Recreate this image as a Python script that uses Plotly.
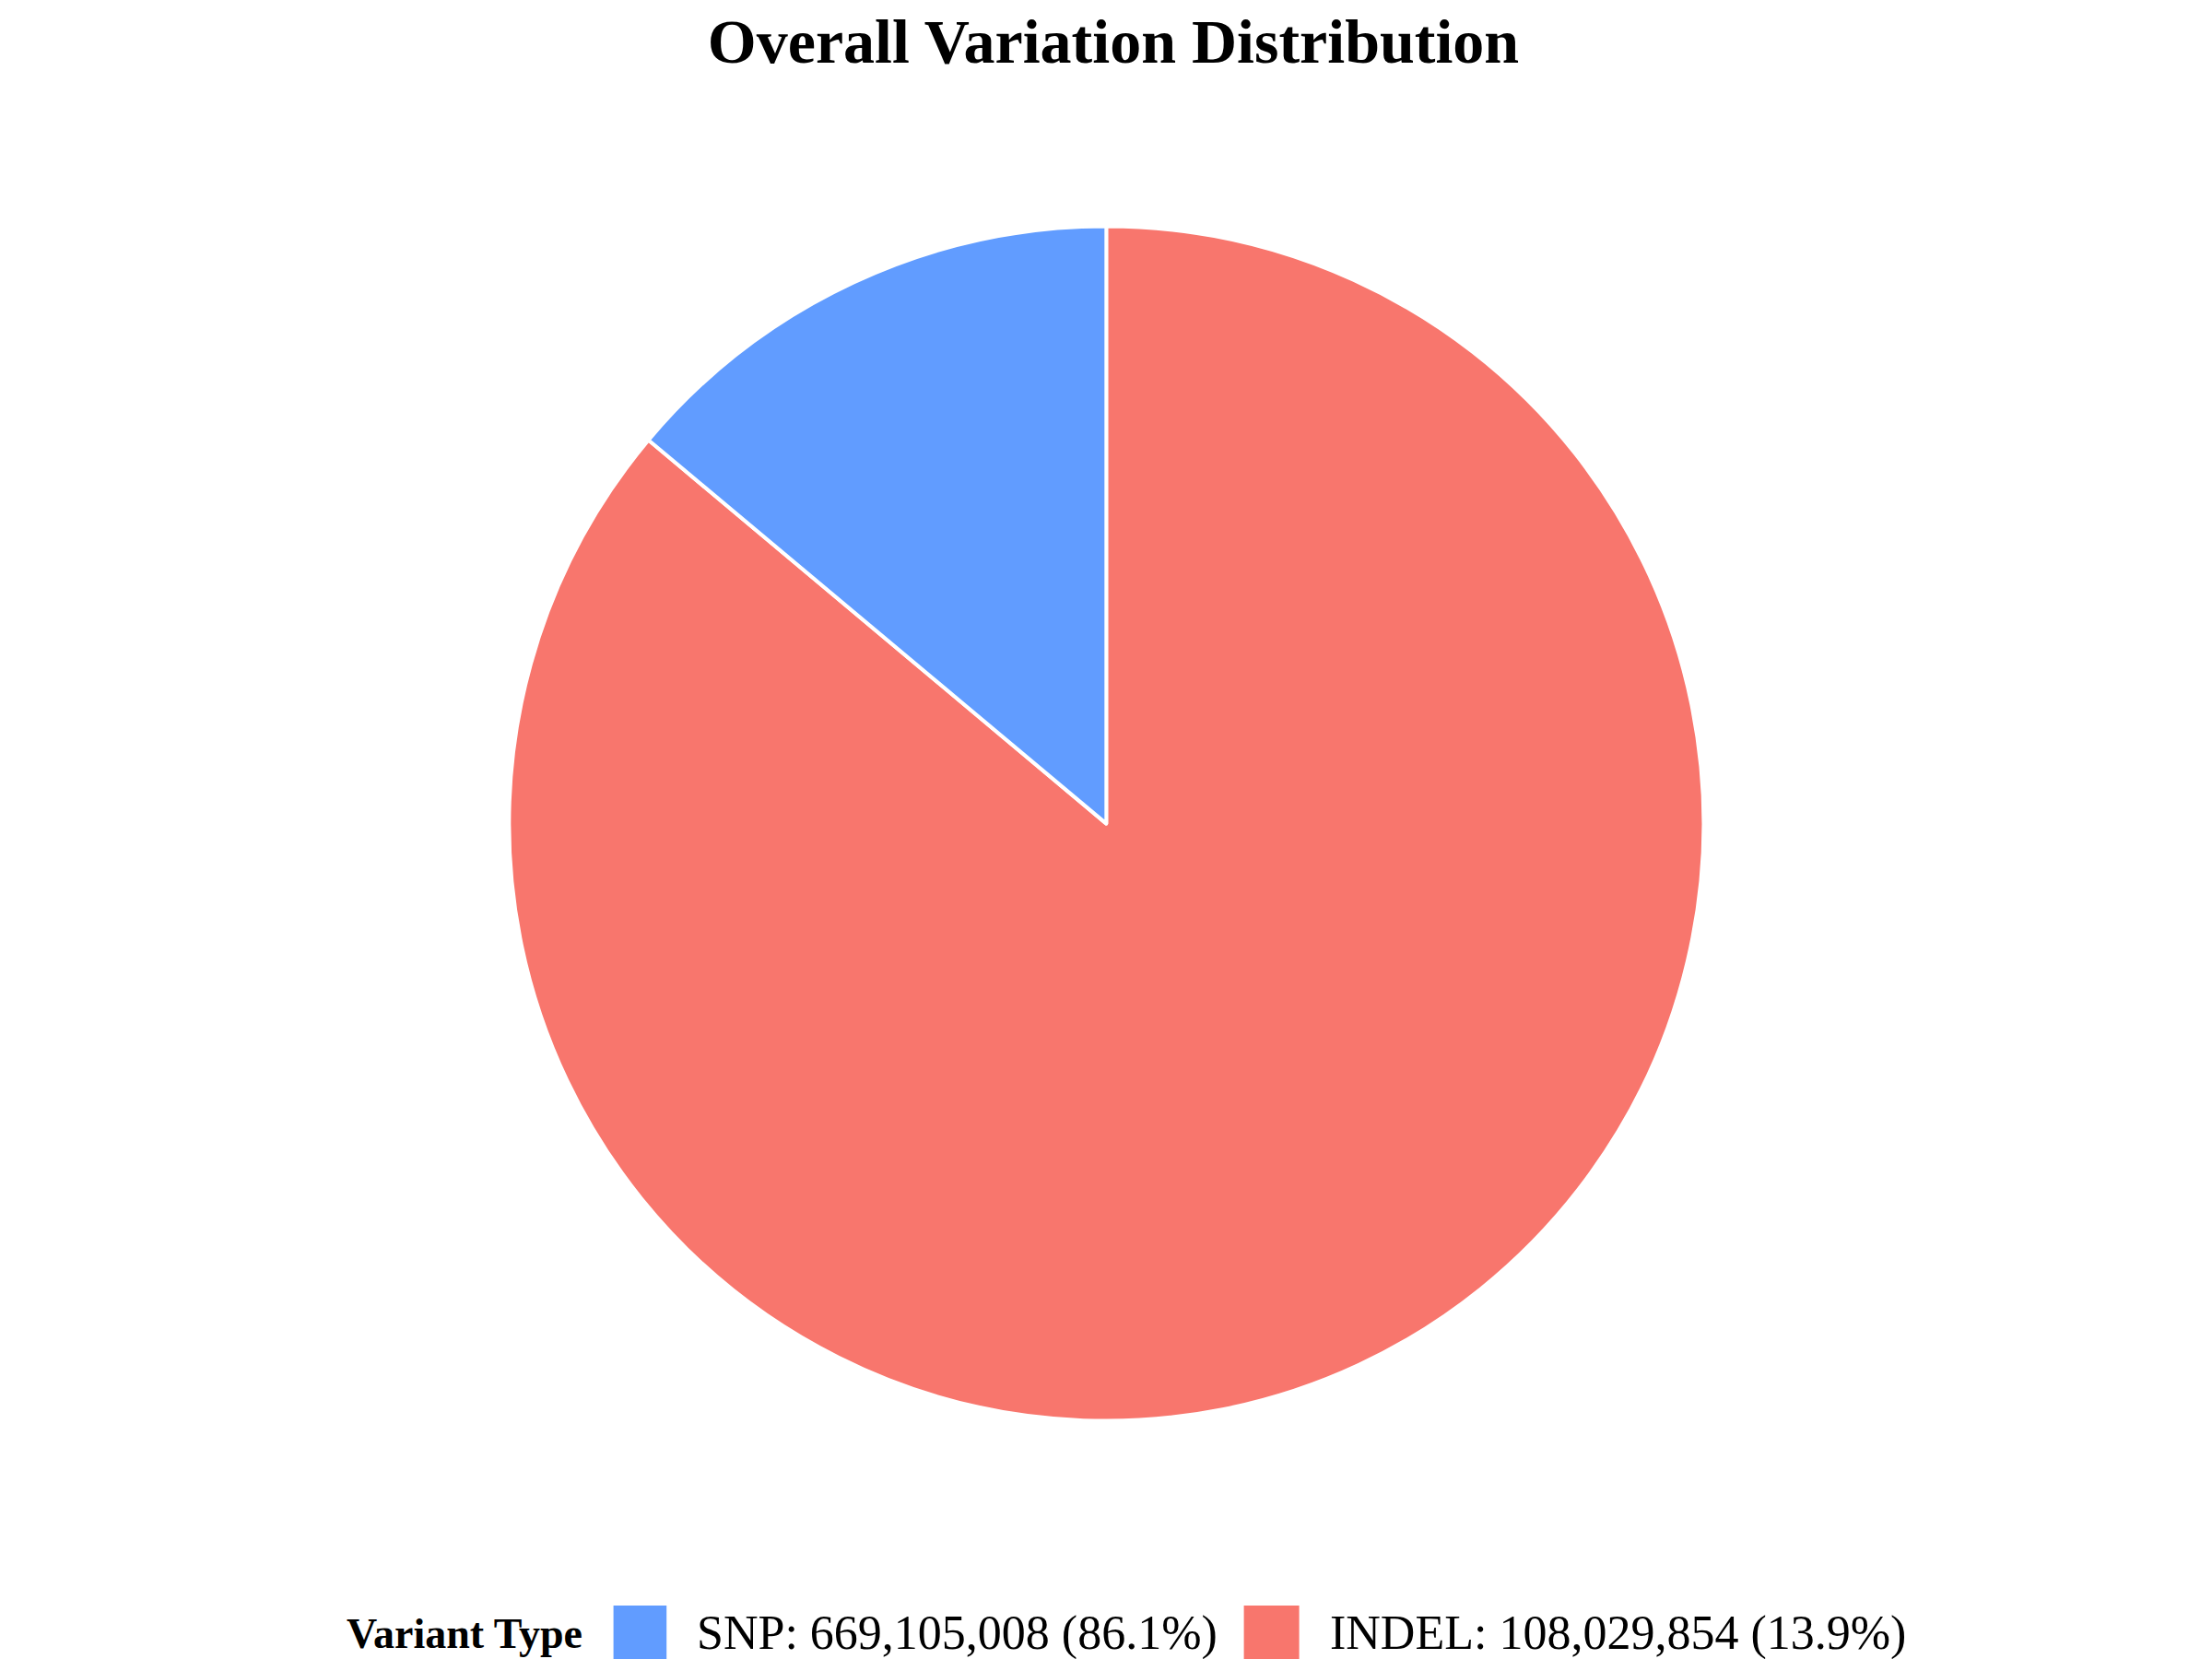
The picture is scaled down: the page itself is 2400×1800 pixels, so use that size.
import plotly.graph_objects as go

categories = ["SNP", "INDEL"]
counts = [669105008, 108029854]
percents = [86.1, 13.9]
colors = ["#619CFF", "#F8766D"]
# slice drawing order as in the reference (large red, then small blue ending at 12 o'clock)
slice_values = [counts[0], counts[1]]
slice_colors = [colors[1], colors[0]]

fig = go.Figure()
fig.add_trace(go.Pie(values=slice_values, sort=False, direction="counterclockwise",
                     marker=dict(colors=slice_colors, line=dict(color="white", width=4)),
                     textinfo="none", hoverinfo="skip", showlegend=False,
                     domain=dict(x=[0, 0.9936], y=[0.148, 0.868])))

# manual legend
sq_x = [(0.274, 0.298), (0.559, 0.584)]
txt_x = [0.311, 0.597]
fig.add_annotation(text="<b>Variant Type</b>", x=0.261, y=0.02, xref="paper", yref="paper",
                   xanchor="right", yanchor="middle", showarrow=False, font=dict(size=46))
for c, n, p, col, (x0, x1), tx in zip(categories, counts, percents, colors, sq_x, txt_x):
    fig.add_shape(type="rect", xref="paper", yref="paper", x0=x0, x1=x1, y0=0.0044, y1=0.0367,
                  fillcolor=col, line=dict(width=0))
    fig.add_annotation(text=f"{c}: {n:,} ({p}%)", x=tx, y=0.02, xref="paper", yref="paper",
                       xanchor="left", yanchor="middle", showarrow=False, font=dict(size=52))

fig.update_layout(
    width=2400, height=1800, paper_bgcolor="white", plot_bgcolor="white",
    margin=dict(l=0, r=0, t=0, b=0),
    font=dict(family="Liberation Serif", color="black", size=44),
    title=dict(text="<b>Overall Variation Distribution</b>", x=0.5, xanchor="center",
               y=0.98, yanchor="middle", font=dict(size=68)),
    showlegend=False,
)
fig.write_html("out.html")
